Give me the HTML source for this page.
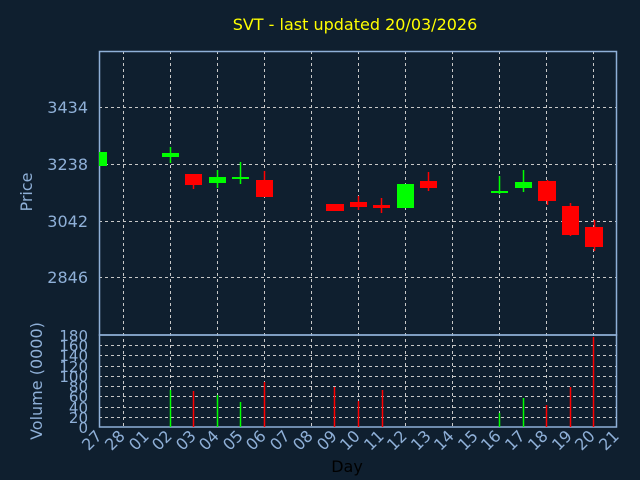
<!DOCTYPE html>
<html><head><meta charset="utf-8"><style>
html,body{margin:0;padding:0;background:#0f1f2f;}
svg{display:block;font-family:"DejaVu Sans","Liberation Sans",sans-serif;}
</style></head><body>
<svg width="640" height="480" viewBox="0 0 640 480" xmlns="http://www.w3.org/2000/svg">
<rect width="640" height="480" fill="#0f1f2f"/>
<text x="355" y="30" fill="#ffff00" font-size="16" text-anchor="middle">SVT - last updated 20/03/2026</text>
<g stroke="#c8c8c8" stroke-width="1" stroke-dasharray="3,3">
<line x1="123.5" y1="51" x2="123.5" y2="427"/><line x1="170.5" y1="51" x2="170.5" y2="427"/>
<line x1="217.5" y1="51" x2="217.5" y2="427"/><line x1="264.5" y1="51" x2="264.5" y2="427"/>
<line x1="311.5" y1="51" x2="311.5" y2="427"/><line x1="358.5" y1="51" x2="358.5" y2="427"/>
<line x1="405.5" y1="51" x2="405.5" y2="427"/><line x1="452.5" y1="51" x2="452.5" y2="427"/>
<line x1="499.5" y1="51" x2="499.5" y2="427"/><line x1="546.5" y1="51" x2="546.5" y2="427"/>
<line x1="593.5" y1="51" x2="593.5" y2="427"/>
<line x1="99" y1="107.5" x2="617" y2="107.5"/><line x1="99" y1="164.5" x2="617" y2="164.5"/>
<line x1="99" y1="221.5" x2="617" y2="221.5"/><line x1="99" y1="277.5" x2="617" y2="277.5"/>
<line x1="99" y1="345.5" x2="617" y2="345.5"/><line x1="99" y1="355.5" x2="617" y2="355.5"/>
<line x1="99" y1="366.5" x2="617" y2="366.5"/><line x1="99" y1="376.5" x2="617" y2="376.5"/>
<line x1="99" y1="386.5" x2="617" y2="386.5"/><line x1="99" y1="396.5" x2="617" y2="396.5"/>
<line x1="99" y1="407.5" x2="617" y2="407.5"/><line x1="99" y1="417.5" x2="617" y2="417.5"/>
</g>
<g stroke="#8fb0d8" stroke-width="1.5" fill="none">
<rect x="99.5" y="51.5" width="517" height="283.5"/>
<rect x="99.5" y="335" width="517" height="92"/>
</g>
<!-- candles -->
<g>
<rect x="99" y="152" width="8" height="14" fill="#00ff00"/>
<line x1="170.5" y1="147" x2="170.5" y2="163" stroke="#00ff00" stroke-width="1.5"/><rect x="162" y="153" width="17" height="4" fill="#00ff00"/>
<line x1="193.5" y1="174" x2="193.5" y2="189" stroke="#ff0000" stroke-width="1.5"/><rect x="185" y="174" width="17" height="11" fill="#ff0000"/>
<line x1="217.5" y1="170" x2="217.5" y2="188" stroke="#00ff00" stroke-width="1.5"/><rect x="209" y="177" width="17" height="6" fill="#00ff00"/>
<line x1="240.5" y1="162" x2="240.5" y2="184" stroke="#00ff00" stroke-width="1.5"/><rect x="232" y="177" width="17" height="2" fill="#00ff00"/>
<line x1="264.5" y1="171" x2="264.5" y2="197" stroke="#ff0000" stroke-width="1.5"/><rect x="256" y="180" width="17" height="17" fill="#ff0000"/>
<rect x="326" y="204" width="18" height="7" fill="#ff0000"/>
<line x1="358.5" y1="196" x2="358.5" y2="210" stroke="#ff0000" stroke-width="1.5"/><rect x="350" y="202" width="17" height="5" fill="#ff0000"/>
<line x1="381.5" y1="198" x2="381.5" y2="213" stroke="#ff0000" stroke-width="1.5"/><rect x="373" y="205" width="17" height="3" fill="#ff0000"/>
<rect x="397" y="184" width="17" height="24" fill="#00ff00"/>
<line x1="428.5" y1="172" x2="428.5" y2="191" stroke="#ff0000" stroke-width="1.5"/><rect x="420" y="181" width="17" height="7" fill="#ff0000"/>
<line x1="499.5" y1="176" x2="499.5" y2="194" stroke="#00ff00" stroke-width="1.5"/><rect x="491" y="191" width="17" height="2" fill="#00ff00"/>
<line x1="523.5" y1="170" x2="523.5" y2="192" stroke="#00ff00" stroke-width="1.5"/><rect x="515" y="182" width="17" height="6" fill="#00ff00"/>
<line x1="547.5" y1="180" x2="547.5" y2="205" stroke="#ff0000" stroke-width="1.5"/><rect x="538" y="181" width="18" height="20" fill="#ff0000"/>
<line x1="570.5" y1="203" x2="570.5" y2="236" stroke="#ff0000" stroke-width="1.5"/><rect x="562" y="206" width="17" height="29" fill="#ff0000"/>
<line x1="594.5" y1="220" x2="594.5" y2="251" stroke="#ff0000" stroke-width="1.5"/><rect x="585" y="227" width="18" height="20" fill="#ff0000"/>
</g>
<!-- volume -->
<g stroke-width="1.5">
<line x1="170.5" y1="390" x2="170.5" y2="427" stroke="#00ff00"/>
<line x1="193.5" y1="391" x2="193.5" y2="427" stroke="#ff0000"/>
<line x1="217.5" y1="395" x2="217.5" y2="427" stroke="#00ff00"/>
<line x1="240.5" y1="402" x2="240.5" y2="427" stroke="#00ff00"/>
<line x1="264.5" y1="382" x2="264.5" y2="427" stroke="#ff0000"/>
<line x1="334.5" y1="387" x2="334.5" y2="427" stroke="#ff0000"/>
<line x1="358.5" y1="401" x2="358.5" y2="427" stroke="#ff0000"/>
<line x1="382.5" y1="390" x2="382.5" y2="427" stroke="#ff0000"/>
<line x1="499.5" y1="413" x2="499.5" y2="427" stroke="#00ff00"/>
<line x1="523.5" y1="398" x2="523.5" y2="427" stroke="#00ff00"/>
<line x1="546.5" y1="405" x2="546.5" y2="427" stroke="#ff0000"/>
<line x1="570.5" y1="387" x2="570.5" y2="427" stroke="#ff0000"/>
<line x1="593.5" y1="337" x2="593.5" y2="427" stroke="#ff0000"/>
</g>
<g fill="#8fb0d8" font-size="16" text-anchor="end">
<text x="88" y="113">3434</text><text x="88" y="170">3238</text>
<text x="88" y="227">3042</text><text x="88" y="283">2846</text>
</g>
<g fill="#8fb0d8" font-size="15" text-anchor="end">
<text x="88" y="341">180</text><text x="88" y="351">160</text><text x="88" y="361">140</text>
<text x="88" y="372">120</text><text x="88" y="382">100</text><text x="88" y="392">80</text>
<text x="88" y="402">60</text><text x="88" y="413">40</text><text x="88" y="423">20</text>
<text x="88" y="433">0</text>
</g>
<text transform="translate(32,192) rotate(-90)" fill="#8fb0d8" font-size="16" text-anchor="middle">Price</text>
<text transform="translate(42,381) rotate(-90)" fill="#8fb0d8" font-size="16" text-anchor="middle">Volume (0000)</text>
<text x="347" y="472" fill="#000" font-size="16" text-anchor="middle">Day</text>
<g fill="#8fb0d8" font-size="16" text-anchor="end">
<text transform="translate(103,437) rotate(-45)">27</text>
<text transform="translate(126,437) rotate(-45)">28</text>
<text transform="translate(150,437) rotate(-45)">01</text>
<text transform="translate(173,437) rotate(-45)">02</text>
<text transform="translate(197,437) rotate(-45)">03</text>
<text transform="translate(220,437) rotate(-45)">04</text>
<text transform="translate(244,437) rotate(-45)">05</text>
<text transform="translate(267,437) rotate(-45)">06</text>
<text transform="translate(291,437) rotate(-45)">07</text>
<text transform="translate(314,437) rotate(-45)">08</text>
<text transform="translate(338,437) rotate(-45)">09</text>
<text transform="translate(361,437) rotate(-45)">10</text>
<text transform="translate(385,437) rotate(-45)">11</text>
<text transform="translate(408,437) rotate(-45)">12</text>
<text transform="translate(432,437) rotate(-45)">13</text>
<text transform="translate(455,437) rotate(-45)">14</text>
<text transform="translate(479,437) rotate(-45)">15</text>
<text transform="translate(502,437) rotate(-45)">16</text>
<text transform="translate(526,437) rotate(-45)">17</text>
<text transform="translate(549,437) rotate(-45)">18</text>
<text transform="translate(573,437) rotate(-45)">19</text>
<text transform="translate(596,437) rotate(-45)">20</text>
<text transform="translate(620,437) rotate(-45)">21</text>
</g>
</svg>
</body></html>
